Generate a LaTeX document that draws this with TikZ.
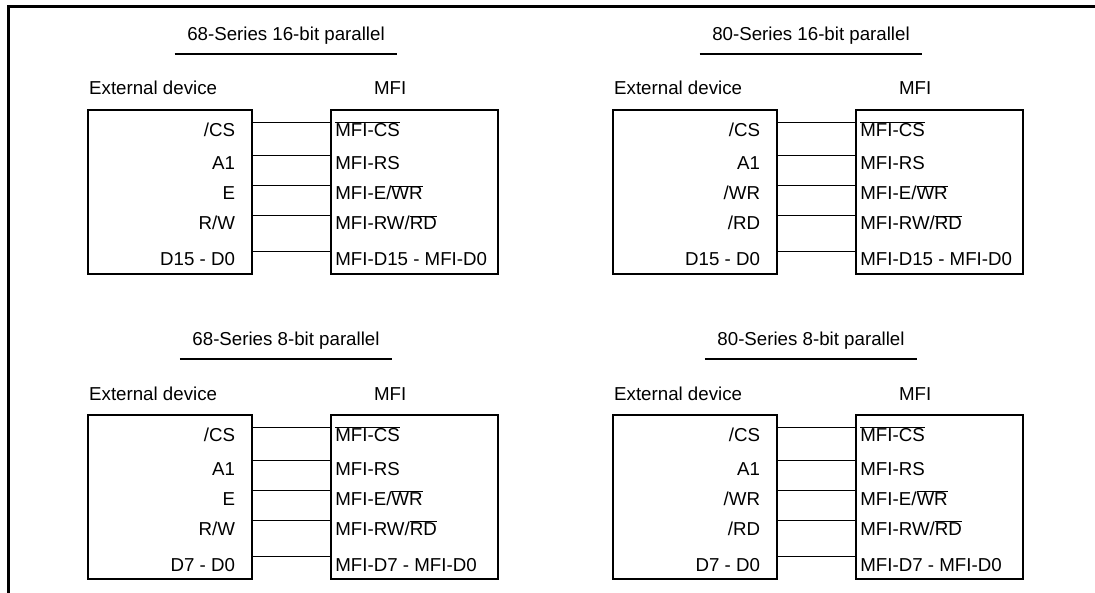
\documentclass[tikz,border=0pt]{standalone}
\usepackage{fontspec}
\setmainfont{Liberation Sans}
\usetikzlibrary{positioning}
\tikzset{lbl/.style = {font=\fontsize{18.7}{22}\selectfont, inner sep=0pt},
  sig/.style = {lbl, text height=14pt, text depth=0pt},
  chip/.style = {draw, line width=2.2pt, minimum width=#1, minimum height=164pt, inner sep=0pt},
  wire/.style = {line width=1pt}}
\newcommand{\ovl}[1]{$\overline{\hbox{#1}}$}
% one panel: prefix, top left of device box, title, 3rd and 4th pin, bus msb
\newcommand{\mfipanel}[6]{%
  \node[chip=164pt, anchor=north west] (#1ext) at (#2) {};
  \node[chip=167pt, right=77pt of #1ext] (#1mfi) {};
  \node[lbl, anchor=base, inner xsep=12.5pt, text depth=13pt] (#1ttl)
    at ([xshift=199pt,yshift=68pt]#1ext.north west) {#3};
  \draw[line width=2pt] (#1ttl.south west) -- (#1ttl.south east);
  \node[lbl, anchor=base west] (#1dev) at ([xshift=2pt,yshift=14pt]#1ext.north west) {External device};
  \node[lbl, anchor=base] (#1chp) at ([xshift=60pt,yshift=14pt]#1mfi.north west) {MFI};
  \node[sig, anchor=base east] (#1e1) at ([xshift=-18pt,yshift=-28pt]#1ext.north east) {/CS};
  \node[sig, anchor=base east] (#1e2) at ([xshift=-18pt,yshift=-61pt]#1ext.north east) {A1};
  \node[sig, anchor=base east] (#1e3) at ([xshift=-18pt,yshift=-91pt]#1ext.north east) {#4};
  \node[sig, anchor=base east] (#1e4) at ([xshift=-18pt,yshift=-121pt]#1ext.north east) {#5};
  \node[sig, anchor=base east] (#1e5) at ([xshift=-18pt,yshift=-157pt]#1ext.north east) {D#6 - D0};
  \node[sig, anchor=base west] (#1m1) at ([xshift=5pt,yshift=-28pt]#1mfi.north west) {\ovl{MFI-CS}};
  \node[sig, anchor=base west] (#1m2) at ([xshift=5pt,yshift=-61pt]#1mfi.north west) {MFI-RS};
  \node[sig, anchor=base west] (#1m3) at ([xshift=5pt,yshift=-91pt]#1mfi.north west) {MFI-E/\ovl{WR}};
  \node[sig, anchor=base west] (#1m4) at ([xshift=5pt,yshift=-121pt]#1mfi.north west) {MFI-RW/\ovl{RD}};
  \node[sig, anchor=base west] (#1m5) at ([xshift=5pt,yshift=-157pt]#1mfi.north west) {MFI-D#6 - MFI-D0};
  \draw[wire] (#1e1.north -| #1ext.east) -- (#1m1.north -| #1mfi.west);
  \draw[wire] (#1e2.north -| #1ext.east) -- (#1m2.north -| #1mfi.west);
  \draw[wire] (#1e3.north -| #1ext.east) -- (#1m3.north -| #1mfi.west);
  \draw[wire] (#1e4.north -| #1ext.east) -- (#1m4.north -| #1mfi.west);
  \draw[wire] (#1e5.north -| #1ext.east) -- (#1m5.north -| #1mfi.west);
}
\begin{document}
\begin{tikzpicture}[x=1pt, y=-1pt]
  \useasboundingbox (0,0) rectangle (1095,593);
  \draw[line width=3pt] (8,593) -- (8,7) -- (1095,7);
  \mfipanel{tl}{87,109}{68-Series 16-bit parallel}{E}{R/W}{15}
  \mfipanel{tr}{612,109}{80-Series 16-bit parallel}{/WR}{/RD}{15}
  \mfipanel{bl}{87,414}{68-Series 8-bit parallel}{E}{R/W}{7}
  \mfipanel{br}{612,414}{80-Series 8-bit parallel}{/WR}{/RD}{7}
\end{tikzpicture}
\end{document}
